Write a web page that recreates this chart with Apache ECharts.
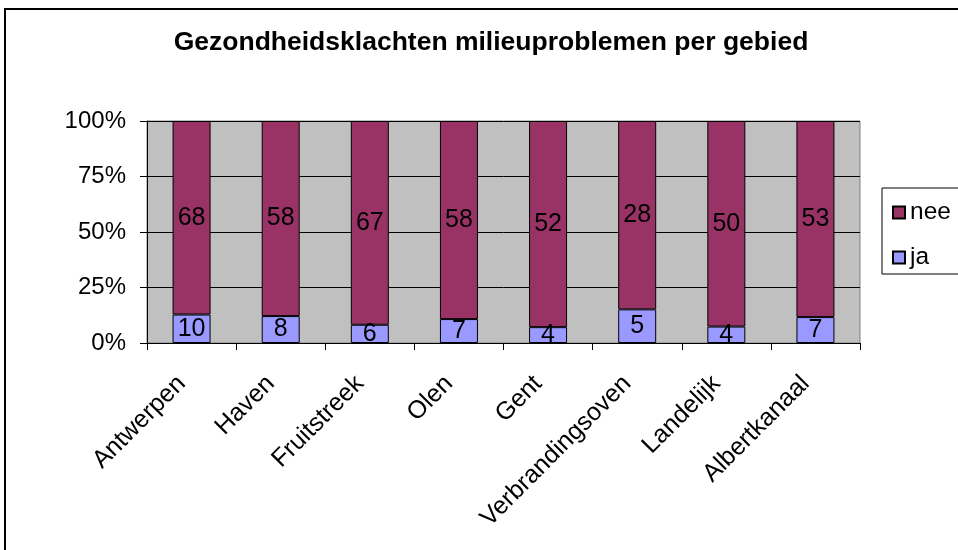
<!DOCTYPE html>
<html>
<head>
<meta charset="utf-8">
<script src="https://cdn.jsdelivr.net/npm/echarts@6/dist/echarts.min.js"></script>
<style>
  html, body { margin: 0; padding: 0; background: #fff; }
  #main { width: 958px; height: 550px; }
</style>
</head>
<body>
<div id="main"></div>
<script>
// areas (x axis)
const gebieden = ['Antwerpen', 'Haven', 'Fruitstreek', 'Olen', 'Gent', 'Verbrandingsoven', 'Landelijk', 'Albertkanaal'];
// counts per answer
const ja = [10, 8, 6, 7, 4, 5, 4, 7];
const nee = [68, 58, 67, 58, 52, 28, 50, 53];
const yTicks = [0, 25, 50, 75, 100];

// 100% stacked: share of each answer per area
const pct = (arr) => arr.map((v, i) => v / (ja[i] + nee[i]) * 100);

const FONT = '"Liberation Sans", Arial, sans-serif';

const myChart = echarts.init(document.getElementById('main'));

const labelFor = (arr) => ({
    show: true,
    position: 'inside',
    color: '#000',
    fontSize: 25,
    fontFamily: FONT,
    formatter: (p) => String(arr[p.dataIndex])
});

const option = {
    animation: false,
    backgroundColor: '#fff',
    textStyle: { fontFamily: FONT },
    title: {
        text: 'Gezondheidsklachten milieuproblemen per gebied',
        left: 491,
        top: 29,
        textAlign: 'center',
        padding: 0,
        textStyle: { fontFamily: FONT, fontSize: 26.5, fontWeight: 'bold', color: '#000' }
    },
    graphic: [{
        type: 'rect',
        shape: { x: 5, y: 9, width: 1000, height: 600 },
        style: { fill: 'none', stroke: '#000', lineWidth: 2 },
        silent: true
    }],
    legend: {
        orient: 'vertical',
        left: 882,
        top: 188,
        padding: [12, 40, 4, 10],
        itemGap: 20,
        itemWidth: 12,
        itemHeight: 12,
        icon: 'rect',
        borderColor: '#000',
        borderWidth: 1,
        backgroundColor: '#fff',
        textStyle: { fontFamily: FONT, fontSize: 24.5, color: '#000', lineHeight: 24 },
        data: ['nee', 'ja']
    },
    grid: {
        left: 147,
        right: 98,
        top: 121,
        bottom: 207,
        show: true,
        backgroundColor: '#c0c0c0',
        borderColor: '#808080',
        borderWidth: 1
    },
    xAxis: {
        type: 'category',
        data: gebieden,
        axisLine: { lineStyle: { color: '#000', width: 1 } },
        axisTick: { show: true, interval: 0, length: 7, lineStyle: { color: '#000' } },
        axisLabel: {
            interval: 0,
            rotate: 45,
            margin: 27,
            padding: [0, 14, 0, 0],
            fontSize: 25,
            fontFamily: FONT,
            color: '#000'
        }
    },
    yAxis: {
        type: 'value',
        min: yTicks[0],
        max: yTicks[yTicks.length - 1],
        interval: 25,
        axisLine: { show: true, lineStyle: { color: '#000', width: 1 } },
        axisTick: { show: true, length: 7, lineStyle: { color: '#000' } },
        splitLine: { show: true, lineStyle: { color: '#000', width: 1 } },
        axisLabel: {
            formatter: '{value}%',
            margin: 21,
            fontSize: 24,
            fontFamily: FONT,
            color: '#000'
        }
    },
    series: [
        {
            name: 'ja',
            type: 'bar',
            stack: 'total',
            barWidth: 38,
            data: pct(ja),
            itemStyle: { color: '#9999ff', borderColor: '#000', borderWidth: 1 },
            label: labelFor(ja)
        },
        {
            name: 'nee',
            type: 'bar',
            stack: 'total',
            barWidth: 38,
            data: pct(nee),
            itemStyle: { color: '#993366', borderColor: '#000', borderWidth: 1 },
            label: labelFor(nee)
        }
    ]
};

myChart.setOption(option);
</script>
</body>
</html>
